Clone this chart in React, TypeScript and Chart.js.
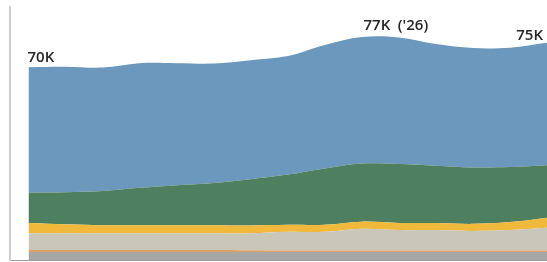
import React, { useEffect, useRef } from "react";
import { Chart, registerables } from "chart.js";

Chart.register(...registerables);

const years = [2016, 2017, 2018, 2019, 2020, 2021, 2022, 2023, 2024, 2025, 2026, 2027, 2028, 2029, 2030];

// values in thousands, stacked bottom -> top
const grayBase = [28.3, 28.3, 28.3, 28.3, 28.3, 28.3, 28.3, 28.3, 28.3, 28.3, 28.3, 28.3, 28.3, 28.3, 28.3];
const orangeThin = [0.45, 0.45, 0.45, 0.45, 0.45, 0.45, 0.4, 0.34, 0.34, 0.34, 0.34, 0.34, 0.34, 0.34, 0.34];
const beige = [3.8, 3.8, 3.8, 3.8, 3.8, 3.8, 3.8, 4.2, 4.2, 4.9, 4.6, 4.6, 4.4, 4.6, 5.1];
const yellow = [2.3, 2.0, 1.8, 1.8, 1.8, 1.8, 1.8, 1.6, 1.6, 1.6, 1.6, 1.6, 1.6, 1.8, 2.3];
const green = [6.8, 7.2, 7.7, 8.4, 9.0, 9.5, 10.4, 11.3, 12.7, 13.1, 13.3, 12.9, 12.7, 12.4, 11.8];
const blue = [28.3, 28.3, 27.8, 28.1, 27.5, 26.9, 26.8, 26.7, 27.8, 28.5, 28.5, 27.4, 26.9, 26.9, 27.6];

const labelTexts = ["70K", "77K ('26)", "75K"];
const labelIndexes = [0, 10, 14];

const labelPlugin = {
  id: "endLabels",
  afterDatasetsDraw(chart: any) {
    const ctx = chart.ctx;
    const meta = chart.getDatasetMeta(chart.data.datasets.length - 1);
    ctx.save();
    ctx.fillStyle = "#262626";
    ctx.font = "600 15px 'Open Sans'";
    ctx.textBaseline = "alphabetic";
    labelIndexes.forEach((idx, k) => {
      const pt = meta.data[idx];
      if (!pt) return;
      const x = pt.x;
      const y = pt.y;
      if (k === 0) {
        ctx.textAlign = "left";
        ctx.fillText(labelTexts[k], x - 1, y - 5);
      } else if (k === 1) {
        const parts = labelTexts[k].split(" ");
        ctx.textAlign = "center";
        ctx.fillText(parts[0], x - 22, y - 7);
        ctx.textAlign = "left";
        ctx.fillText(parts[1], x - 1, y - 7);
      } else {
        ctx.textAlign = "right";
        ctx.fillText(labelTexts[k], x - 4, y - 3);
      }
    });
    ctx.restore();
  },
};

export default function App() {
  const ref = useRef<HTMLCanvasElement>(null);
  useEffect(() => {
    if (!ref.current) return;
    const mk = (label: string, data: number[], color: string, fill: any) => ({
      label,
      data: years.map((y, i) => ({ x: y, y: data[i] })),
      backgroundColor: color,
      borderColor: color,
      borderWidth: 0,
      pointRadius: 0,
      fill,
      tension: 0.35,
    });
    const chart = new Chart(ref.current, {
      type: "line",
      data: {
        datasets: [
          mk("Gray", grayBase, "#a7a7a7", "start"),
          mk("Orange", orangeThin, "#dda066", "-1"),
          mk("Beige", beige, "#c9c6ba", "-1"),
          mk("Yellow", yellow, "#f0b93c", "-1"),
          mk("Green", green, "#4e7f5f", "-1"),
          mk("Blue", blue, "#6c98be", "-1"),
        ],
      },
      options: {
        animation: false,
        responsive: false,
        layout: { padding: { left: 10, top: 7, bottom: 2, right: 0 } },
        plugins: { legend: { display: false }, tooltip: { enabled: false } },
        scales: {
          x: {
            type: "linear",
            min: 2015.5,
            max: 2030,
            ticks: { display: false },
            grid: { display: false, drawTicks: false },
            border: { display: true, color: "#9a9a9a", width: 1 },
          },
          y: {
            stacked: true,
            min: 26.5,
            max: 83.5,
            ticks: { display: false },
            grid: { display: false, drawTicks: false },
            border: { display: true, color: "#cfcfcf", width: 2 },
          },
        },
      },
      plugins: [labelPlugin],
    });
    return () => chart.destroy();
  }, []);
  return (
    <div style={{ position: "fixed", left: 0, top: 0, width: 547, height: 262, background: "#fff" }}>
      <canvas ref={ref} width={547} height={262} />
    </div>
  );
}
